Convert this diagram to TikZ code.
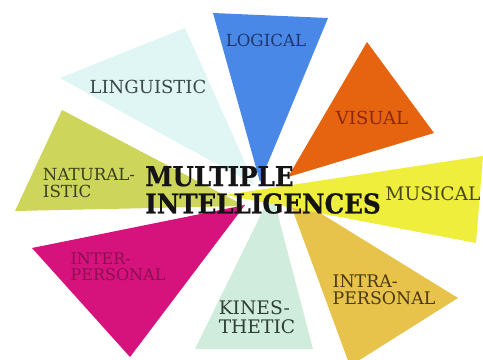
\documentclass[tikz,border=0pt]{standalone}
\usepackage{fontspec}
\setmainfont{DejaVu Serif}
\newfontfamily\titlefont[FakeStretch=0.9,FakeBold=0.6]{DejaVu Serif}
\definecolor{cLog}{RGB}{74,136,232}
\definecolor{cVis}{RGB}{230,100,15}
\definecolor{cMus}{RGB}{240,238,60}
\definecolor{cIntra}{RGB}{232,195,75}
\definecolor{cKin}{RGB}{208,236,220}
\definecolor{cInter}{RGB}{214,18,125}
\definecolor{cNat}{RGB}{205,214,90}
\definecolor{cLing}{RGB}{224,246,245}
\definecolor{tLog}{RGB}{30,55,110}
\definecolor{tLing}{RGB}{58,72,72}
\definecolor{tVis}{RGB}{140,40,16}
\definecolor{tMus}{RGB}{72,72,26}
\definecolor{tNat}{RGB}{58,64,32}
\definecolor{tInter}{RGB}{138,16,80}
\definecolor{tKin}{RGB}{47,63,56}
\definecolor{tIntra}{RGB}{74,58,16}
\tikzset{
  wedge/.style={draw=none},
  lbl/.style={inner sep=0pt, align=left, font=\fontsize{13.5}{13.5}\selectfont},
  ttl/.style={inner sep=0pt, align=left, text=black!92, font=\titlefont\bfseries\fontsize{20.5}{20.5}\selectfont}
}
\begin{document}
\begin{tikzpicture}[x=0.75pt,y=-0.75pt]
\useasboundingbox (0,0) rectangle (483,360);
\fill[white] (0,0) rectangle (483,360);
\begin{scope}
\clip (0,0) rectangle (483,360);
% wedges
\fill[wedge,cLing] (60,78) -- (185,28) -- (255,185) -- cycle;
\fill[wedge,cNat] (62,110) -- (15,211) -- (245,206) -- cycle;
\fill[wedge,cInter] (32,248) -- (130,357) -- (245,205) -- cycle;
\fill[wedge,cKin] (272,192) -- (313,349) -- (195,349) -- cycle;
\fill[wedge,cIntra] (286,192) -- (458,298) -- (350,366) -- cycle;
\fill[wedge,cMus] (225,195) -- (483,156) -- (476,243) -- cycle;
\fill[wedge,cVis] (288,177) -- (367,42) -- (434,133) -- cycle;
\fill[wedge,cLog] (213,13) -- (328,18) -- (260,182) -- cycle;
\end{scope}
% labels
\node[lbl,text=tLog,font=\fontsize{12.5}{12.5}\selectfont] (log) at (266,40) {LOGICAL};
\node[lbl,text=tLing] (ling) at (148,87) {LINGUISTIC};
\node[lbl,text=tVis] (vis) at (372,118) {VISUAL};
\node[lbl,text=tMus,font=\fontsize{14}{14}\selectfont] (mus) at (433,194) {MUSICAL};
\node[lbl,text=tNat,font=\fontsize{12.5}{12.5}\selectfont] (nat) at (89,183) {NATURAL-\\ISTIC};
\node[lbl,text=tInter,font=\fontsize{12}{12}\selectfont] (inter) at (118,267) {INTER-\\PERSONAL};
\node[lbl,text=tKin,font=\fontsize{14}{14}\selectfont] (kin) at (257,317) {KINES-\\THETIC};
\node[lbl,text=tIntra,font=\fontsize{13}{13}\selectfont] (intra) at (384,290) {INTRA-\\PERSONAL};
\node[ttl] (title) at (263,190) {MULTIPLE\\INTELLIGENCES};
\end{tikzpicture}
\end{document}
